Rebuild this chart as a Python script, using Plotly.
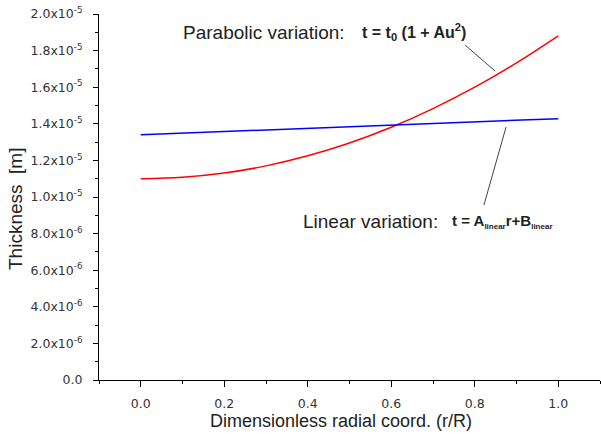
import plotly.graph_objects as go

# Data
r_vals = [0.0, 0.1, 0.2, 0.3, 0.4, 0.5, 0.6, 0.7, 0.8, 0.9, 1.0]
parabolic = [1.100e-5, 1.108e-5, 1.131e-5, 1.170e-5, 1.225e-5, 1.295e-5,
             1.381e-5, 1.483e-5, 1.600e-5, 1.733e-5, 1.881e-5]
linear = [1.340e-5, 1.349e-5, 1.358e-5, 1.367e-5, 1.376e-5, 1.385e-5,
          1.394e-5, 1.403e-5, 1.412e-5, 1.420e-5, 1.428e-5]

y_tickvals = [0, 2e-6, 4e-6, 6e-6, 8e-6, 1e-5, 1.2e-5, 1.4e-5, 1.6e-5, 1.8e-5, 2e-5]
y_ticktext = ["0.0", "2.0x10<sup>-6</sup>", "4.0x10<sup>-6</sup>", "6.0x10<sup>-6</sup>",
              "8.0x10<sup>-6</sup>", "1.0x10<sup>-5</sup>", "1.2x10<sup>-5</sup>",
              "1.4x10<sup>-5</sup>", "1.6x10<sup>-5</sup>", "1.8x10<sup>-5</sup>",
              "2.0x10<sup>-5</sup>"]
y_minor = [1e-6, 3e-6, 5e-6, 7e-6, 9e-6, 1.1e-5, 1.3e-5, 1.5e-5, 1.7e-5, 1.9e-5]
x_tickvals = [0.0, 0.2, 0.4, 0.6, 0.8, 1.0]
x_ticktext = ["0.0", "0.2", "0.4", "0.6", "0.8", "1.0"]
x_minor = [-0.1, 0.1, 0.3, 0.5, 0.7, 0.9, 1.1]

fig = go.Figure()
fig.add_trace(go.Scatter(x=r_vals, y=parabolic, mode="lines",
                         line=dict(color="#ff0000", width=1.5, shape="spline")))
fig.add_trace(go.Scatter(x=r_vals, y=linear, mode="lines",
                         line=dict(color="#0000ff", width=1.5)))

tickfont = dict(family="DejaVu Sans", size=12.5, color="#333333")
fig.update_layout(
    width=601, height=443,
    margin=dict(l=99, r=1, t=14, b=63),
    paper_bgcolor="white", plot_bgcolor="white",
    showlegend=False,
    font=dict(family="Liberation Sans", color="#222222"),
    xaxis=dict(range=[-0.1, 1.1], tickmode="array", tickvals=x_tickvals, ticktext=x_ticktext,
               ticks="outside", ticklen=6, tickcolor="black", tickwidth=1,
               ticklabelstandoff=6,
               showline=True, linecolor="black", linewidth=1, showgrid=False, zeroline=False,
               tickfont=tickfont,
               minor=dict(tickmode="array", tickvals=x_minor, ticks="outside", ticklen=3,
                          tickcolor="black", showgrid=False)),
    yaxis=dict(range=[0, 2e-5], tickmode="array", tickvals=y_tickvals, ticktext=y_ticktext,
               ticks="outside", ticklen=5, tickcolor="black", tickwidth=1,
               ticklabelstandoff=8,
               showline=True, linecolor="black", linewidth=1, showgrid=False, zeroline=False,
               tickfont=tickfont,
               minor=dict(tickmode="array", tickvals=y_minor, ticks="outside", ticklen=3,
                          tickcolor="black", showgrid=False)),
)

# Axis titles as annotations (positioned like the reference)
fig.add_annotation(text="Thickness  [m]", xref="paper", yref="paper",
                   x=(15 - 99) / 501, y=(380 - 209) / 366, textangle=-90,
                   showarrow=False, font=dict(size=19, color="#222222"),
                   xanchor="center", yanchor="middle")
fig.add_annotation(text="Dimensionless radial coord. (r/R)", xref="paper", yref="paper",
                   x=(341 - 99) / 501, y=(380 - 421) / 366,
                   showarrow=False, font=dict(size=18, color="#222222"),
                   xanchor="center", yanchor="middle")

# Equation labels
fig.add_annotation(
    text="Parabolic variation:",
    xref="paper", yref="paper", x=(181 - 99) / 501, y=(380 - 32) / 366,
    xanchor="left", yanchor="middle", showarrow=False,
    font=dict(size=19, color="#222222"))
fig.add_annotation(
    text="<b>t = t<sub>0</sub> (1 + Au<sup>2</sup>)</b>",
    xref="paper", yref="paper", x=(360 - 99) / 501, y=(380 - 32) / 366,
    xanchor="left", yanchor="middle", showarrow=False,
    font=dict(size=16, color="#222222"))
fig.add_annotation(
    text="Linear variation:",
    xref="paper", yref="paper", x=(301 - 99) / 501, y=(380 - 221) / 366,
    xanchor="left", yanchor="middle", showarrow=False,
    font=dict(size=19, color="#222222"))
fig.add_annotation(
    text="<b>t = A<sub><span style='font-size:8px'>linear</span></sub>r+B<sub><span style='font-size:8px'>linear</span></sub></b>",
    xref="paper", yref="paper", x=(450 - 99) / 501, y=(380 - 221) / 366,
    xanchor="left", yanchor="middle", showarrow=False,
    font=dict(size=15, color="#222222"))

# Pointer lines
fig.add_shape(type="line", x0=0.777, y0=1.830e-5, x1=0.849, y1=1.688e-5,
              line=dict(color="#444444", width=1))
fig.add_shape(type="line", x0=0.875, y0=1.382e-5, x1=0.822, y1=0.956e-5,
              line=dict(color="#444444", width=1))

fig.write_html("out.html", config={"displayModeBar": False},
               post_script="document.body.style.margin='0';document.body.style.padding='0';")
